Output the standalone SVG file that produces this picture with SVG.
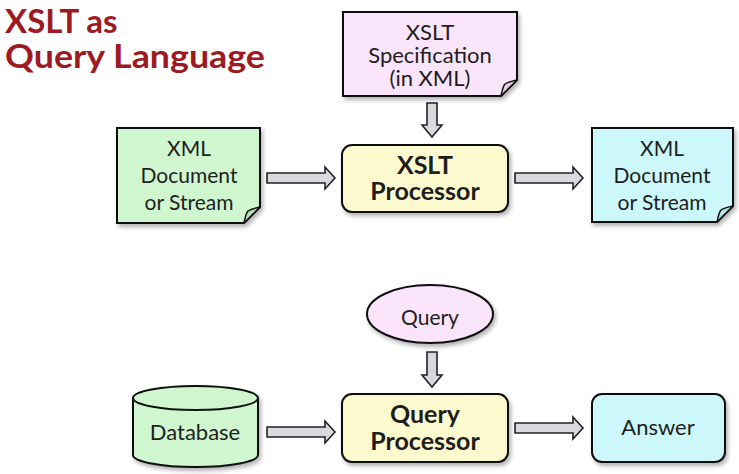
<svg xmlns="http://www.w3.org/2000/svg" width="739" height="474" viewBox="0 0 739 474">
<style>
text{font-family:Lato,"Noto Sans",sans-serif;fill:#1e1e1e;text-anchor:middle}
.t{font-size:21px}
.s{font-size:22px}
.b{font-size:25px;font-weight:bold}
.title{font-size:33px;font-weight:bold;fill:#9e1a22;text-anchor:start}
.shape{stroke:#111;stroke-width:2;filter:url(#sh)}
.fold{stroke:#111;stroke-width:1.5;stroke-linejoin:round}
.arr{fill:#d8d8de;stroke:#222;stroke-width:1.6;stroke-linejoin:miter}
</style>
<defs>
<filter id="sh" x="-10%" y="-10%" width="125%" height="130%">
<feDropShadow dx="2" dy="3" stdDeviation="2" flood-color="#000" flood-opacity="0.3"/>
</filter>
</defs>
<rect width="739" height="474" fill="#fff"/>
<g id="title">
<text class="title" x="5" y="33">XSLT as</text>
<text class="title" x="5" y="68" textLength="260" lengthAdjust="spacingAndGlyphs">Query Language</text>
</g>
<g id="spec">
<path class="shape" d="M343,12 H517 V80 L501,96 H343 Z" fill="#f9e4f9"/>
<path class="fold" d="M517,80 L501,96 C502,91 503,86 505,84 C508,82 512,81 517,80 Z" fill="#e6cfe6"/>
<text class="s" x="430" y="40">XSLT</text>
<text class="s" x="430" y="63">Specification</text>
<text class="s" x="430" y="86">(in XML)</text>
</g>
<g id="xmlin">
<path class="shape" d="M117,128 H260 V207 L244,223 H117 Z" fill="#cff6cf"/>
<path class="fold" d="M260,207 L244,223 C245,218 246,213 248,211 C251,209 255,208 260,207 Z" fill="#b9e0b9"/>
<text class="t" x="189" y="156">XML</text>
<text class="t" x="189" y="183">Document</text>
<text class="t" x="189" y="210">or Stream</text>
</g>
<g id="xslt">
<rect class="shape" x="342" y="145" width="166" height="67" rx="10" fill="#fdf9cf"/>
<text class="b" x="425" y="174">XSLT</text>
<text class="b" x="425" y="200">Processor</text>
</g>
<g id="xmlout">
<path class="shape" d="M592,128 H733 V206 L717,222 H592 Z" fill="#ccf8fb"/>
<path class="fold" d="M733,206 L717,222 C718,217 719,212 721,210 C724,208 728,207 733,206 Z" fill="#b5e2e6"/>
<text class="t" x="662" y="156">XML</text>
<text class="t" x="662" y="183">Document</text>
<text class="t" x="662" y="210">or Stream</text>
</g>
<g id="query">
<ellipse class="shape" cx="430" cy="314" rx="63" ry="29" fill="#f9e4f9"/>
<text class="t" x="430" y="325">Query</text>
</g>
<g id="database">
<path class="shape" d="M133,398 V455 A62.5,12 0 0 0 258,455 V398 A62.5,12 0 0 0 133,398 Z" fill="#cff6cf"/>
<path d="M133,398 A62.5,12 0 0 0 258,398" fill="none" stroke="#111" stroke-width="2"/>
<text class="s" x="195" y="440">Database</text>
</g>
<g id="qproc">
<rect class="shape" x="342" y="394" width="166" height="68" rx="10" fill="#fdf9cf"/>
<text class="b" x="425" y="423">Query</text>
<text class="b" x="425" y="450">Processor</text>
</g>
<g id="answer">
<rect class="shape" x="592" y="394" width="133" height="68" rx="10" fill="#ccf8fb"/>
<text class="s" x="658" y="435">Answer</text>
</g>
<g id="connectors">
<path class="arr" d="M427,103 H437 V125 H442 L432,137 L422,125 H427 Z"/>
<path class="arr" d="M267,173 H325 V167 L335,178 L325,189 V183 H267 Z"/>
<path class="arr" d="M515,173 H573 V167 L583,178 L573,189 V183 H515 Z"/>
<path class="arr" d="M427,352 H437 V375 H442 L432,387 L422,375 H427 Z"/>
<path class="arr" d="M267,427 H325 V421 L335,432 L325,443 V437 H267 Z"/>
<path class="arr" d="M515,423 H573 V417 L583,428 L573,439 V433 H515 Z"/>
</g>
</svg>
